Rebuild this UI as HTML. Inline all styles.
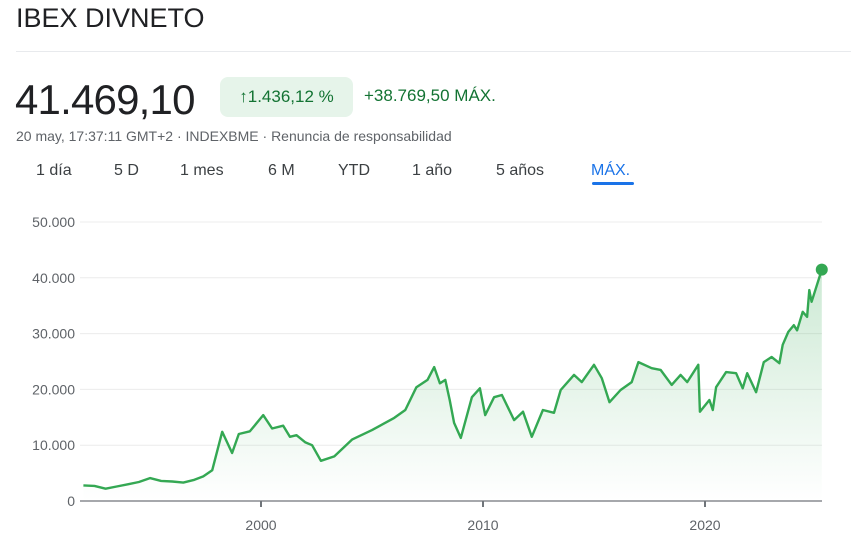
<!DOCTYPE html>
<html><head><meta charset="utf-8">
<style>
body{margin:0;width:851px;height:545px;background:#fff;font-family:"Liberation Sans",Arial,sans-serif;position:relative;overflow:hidden}
.a{position:absolute;white-space:nowrap}
</style></head><body>
<div class="a" style="left:16px;top:3px;font-size:27px;color:#202124">IBEX DIVNETO</div>
<div class="a" style="left:16px;top:51px;width:835px;height:1px;background:#e8eaed"></div>
<div class="a" style="left:15px;top:76px;font-size:42px;color:#202124;letter-spacing:-0.8px">41.469,10</div>
<div class="a" style="left:220px;top:77px;width:133px;height:40px;background:#e6f4ea;border-radius:8px;color:#137333;font-size:17px;line-height:40px;text-align:center">↑1.436,12 %</div>
<div class="a" style="left:364px;top:86px;font-size:17px;color:#137333">+38.769,50 MÁX.</div>
<div class="a" style="left:16px;top:128px;font-size:14px;color:#5f6368">20 may, 17:37:11 GMT+2 · INDEXBME · Renuncia de responsabilidad</div>
<div>
<div class="a" style="left:36px;top:162px;font-size:16px;color:#3c4043">1 día</div>
<div class="a" style="left:114px;top:162px;font-size:16px;color:#3c4043">5 D</div>
<div class="a" style="left:180px;top:162px;font-size:16px;color:#3c4043">1 mes</div>
<div class="a" style="left:268px;top:162px;font-size:16px;color:#3c4043">6 M</div>
<div class="a" style="left:338px;top:162px;font-size:16px;color:#3c4043">YTD</div>
<div class="a" style="left:412px;top:162px;font-size:16px;color:#3c4043">1 año</div>
<div class="a" style="left:496px;top:162px;font-size:16px;color:#3c4043">5 años</div>
<div class="a" style="left:591px;top:162px;font-size:16px;color:#1a73e8">MÁX.</div>
<div class="a" style="left:592px;top:182px;width:42px;height:3px;background:#1a73e8;border-radius:2px"></div>
</div>
<svg class="a" style="left:0;top:0" width="851" height="545">
<defs><linearGradient id="g" x1="0" y1="0" x2="0" y2="1"><stop offset="0" stop-color="#34a853" stop-opacity="0.25"/><stop offset="1" stop-color="#34a853" stop-opacity="0"/></linearGradient></defs>
<g id="grid"></g><path id="area" fill="url(#g)"/><path id="line" fill="none" stroke="#34a853" stroke-width="2.4" stroke-linejoin="round"/><circle id="dot" r="6" fill="#34a853"/>
</svg>
<script>
const yTicks=[0,10000,20000,30000,40000,50000];
const yTickLabels=["0","10.000","20.000","30.000","40.000","50.000"];
const xTicks=[2000,2010,2020];
const years=[1992,1992.5,1993,1993.5,1994,1994.5,1995,1995.5,1996,1996.5,1997,1997.4,1997.8,1998.25,1998.7,1999,1999.5,2000.1,2000.5,2001,2001.3,2001.6,2002,2002.3,2002.7,2003.3,2004.1,2005,2006,2006.5,2007,2007.5,2007.8,2008.06,2008.3,2008.5,2008.7,2009,2009.5,2009.86,2010.1,2010.5,2010.85,2011.4,2011.8,2012.2,2012.7,2013.2,2013.5,2014.1,2014.45,2015,2015.35,2015.7,2016.2,2016.7,2017,2017.6,2018,2018.5,2018.9,2019.2,2019.7,2019.77,2020.2,2020.35,2020.5,2020.95,2021.4,2021.7,2021.9,2022.3,2022.65,2023,2023.35,2023.5,2023.75,2024,2024.15,2024.4,2024.6,2024.7,2024.8,2025.26];
const values=[2800,2700,2200,2600,3000,3400,4100,3600,3500,3300,3800,4400,5500,12400,8600,12000,12500,15400,13000,13500,11500,11800,10500,10000,7200,8000,11000,12700,14900,16300,20400,21700,24000,21100,21700,18100,14000,11300,18600,20200,15400,18600,19000,14500,16000,11500,16300,15800,19900,22600,21300,24400,22000,17700,19900,21300,24900,23800,23500,20800,22600,21300,24400,16000,18100,16300,20400,23100,22900,20200,22900,19500,24900,25800,24700,28000,30300,31500,30600,33900,33000,37800,35700,41469];
const X=t=>261+(t-2000)*22.2, Y=v=>501-v*0.00558;
const ns="http://www.w3.org/2000/svg",grid=document.getElementById('grid');
yTicks.forEach((v,i)=>{
 const l=document.createElementNS(ns,'line');
 
 
 l.setAttribute('x1',80);l.setAttribute('x2',822);l.setAttribute('y1',Y(v));l.setAttribute('y2',Y(v));
 l.setAttribute('stroke',v===0?'#70757a':'#ececec');l.setAttribute('stroke-width',v===0?1.3:1);grid.appendChild(l);
 const t=document.createElementNS(ns,'text');
 
 
 t.setAttribute('x',75);t.setAttribute('y',Y(v)+5);t.setAttribute('text-anchor','end');t.setAttribute('font-size','14');t.setAttribute('fill','#5f6368');t.textContent=yTickLabels[i];grid.appendChild(t);
});
xTicks.forEach(yr=>{
 const l=document.createElementNS(ns,'line');
 
 
 l.setAttribute('x1',X(yr));l.setAttribute('x2',X(yr));l.setAttribute('y1',501);l.setAttribute('y2',507);l.setAttribute('stroke','#70757a');l.setAttribute('stroke-width',2);grid.appendChild(l);
 const t=document.createElementNS(ns,'text');
 
 
 t.setAttribute('x',X(yr));t.setAttribute('y',530);t.setAttribute('text-anchor','middle');t.setAttribute('font-size','14');t.setAttribute('fill','#5f6368');t.textContent=yr;grid.appendChild(t);
});
let d=years.map((t,i)=>(i?'L':'M')+X(t).toFixed(1)+','+Y(values[i]).toFixed(1)).join('');
document.getElementById('line').setAttribute('d',d);
const n=years.length-1;
document.getElementById('area').setAttribute('d',d+'L'+X(years[n])+',501L'+X(years[0])+',501Z');
const dot=document.getElementById('dot');dot.setAttribute('cx',X(years[n]));dot.setAttribute('cy',Y(values[n]));
</script>
</body></html>
